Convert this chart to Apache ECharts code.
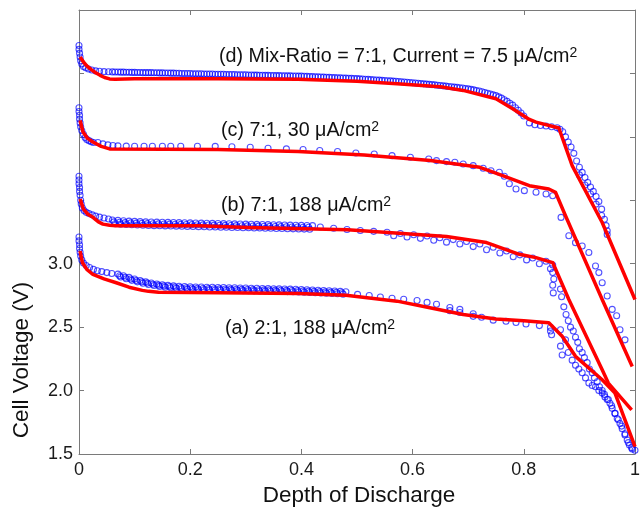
<!DOCTYPE html>
<html>
<head>
<meta charset="utf-8">
<script src="https://cdn.jsdelivr.net/npm/echarts@6/dist/echarts.min.js"></script>
<style>
html,body{margin:0;padding:0;background:#fff;}
#c{width:643px;height:508px;}
</style>
</head>
<body>
<div id="c"></div>
<script>
// ---------- data ----------
const xTickLabels = ['0', '0.2', '0.4', '0.6', '0.8', '1'];
const yTickLabels = ['1.5', '2.0', '2.5', '3.0'];

const curveLabels = [
  ['(d) Mix-Ratio = 7:1, Current = 7.5 μA/cm', '2'],
  ['(c) 7:1, 30 μA/cm', '2'],
  ['(b) 7:1, 188 μA/cm', '2'],
  ['(a) 2:1, 188 μA/cm', '2']
];
const xName = 'Depth of Discharge';
const yName = 'Cell Voltage (V)';

// model (red) curves
const redD = [[0.002,4.63],[0.008,4.59],[0.014,4.56],[0.022,4.53],[0.030,4.505],[0.038,4.485],[0.046,4.468],[0.055,4.457],[0.065,4.455],[0.10,4.458],[0.25,4.459],[0.394,4.455],[0.50,4.438],[0.572,4.419],[0.65,4.395],[0.691,4.366],[0.75,4.30],[0.78,4.222],[0.81,4.137],[0.822,4.116],[0.863,4.07],[0.887,3.773],[0.941,3.325],[1.0,2.718]];
const redC = [[0.002,4.13],[0.007,4.04],[0.015,3.99],[0.025,3.96],[0.040,3.925],[0.055,3.905],[0.25,3.90],[0.394,3.884],[0.513,3.857],[0.632,3.813],[0.721,3.76],[0.762,3.694],[0.810,3.615],[0.845,3.589],[0.857,3.563],[0.875,3.378],[0.941,2.718],[0.995,2.19]];
const redB = [[0.002,3.51],[0.008,3.43],[0.016,3.39],[0.025,3.366],[0.035,3.33],[0.043,3.312],[0.055,3.303],[0.067,3.299],[0.216,3.299],[0.305,3.286],[0.483,3.267],[0.602,3.233],[0.661,3.215],[0.733,3.167],[0.792,3.074],[0.822,3.048],[0.852,3.009],[0.881,2.718],[0.941,2.165],[0.952,2.059],[0.994,1.848]];
const redA = [[0.002,3.10],[0.006,3.01],[0.014,2.955],[0.025,2.915],[0.045,2.88],[0.067,2.85],[0.09,2.815],[0.114,2.79],[0.125,2.782],[0.143,2.776],[0.251,2.772],[0.394,2.766],[0.48,2.752],[0.572,2.705],[0.631,2.653],[0.691,2.60],[0.75,2.565],[0.80,2.55],[0.845,2.534],[0.869,2.428],[0.893,2.27],[0.941,2.085],[0.964,1.98],[0.982,1.769],[1.0,1.558]];

// measured (blue circles)
const blueD = [[0.000,4.72],[0.000,4.69],[0.001,4.66],[0.002,4.63],[0.003,4.60],[0.005,4.575],[0.008,4.555],[0.012,4.545],[0.017,4.535],[0.023,4.527],[0.030,4.52],[0.037,4.517],[0.045,4.514],[0.053,4.513],
[0.06,4.512],[0.07,4.511],[0.08,4.510],[0.09,4.509],[0.10,4.508],[0.11,4.507],[0.12,4.506],[0.13,4.506],[0.14,4.505],[0.15,4.504],[0.16,4.503],[0.17,4.502],[0.18,4.501],[0.19,4.500],[0.20,4.499],[0.21,4.498],[0.22,4.497],[0.23,4.496],[0.24,4.495],[0.25,4.494],[0.26,4.493],[0.27,4.492],[0.28,4.491],[0.29,4.490],[0.30,4.489],[0.31,4.488],[0.32,4.487],[0.33,4.486],[0.34,4.485],[0.35,4.484],[0.36,4.483],[0.37,4.482],[0.38,4.481],[0.39,4.480],[0.40,4.479],[0.41,4.477],[0.42,4.475],[0.43,4.473],[0.44,4.471],[0.45,4.469],[0.46,4.467],[0.47,4.465],[0.48,4.463],[0.49,4.461],[0.50,4.459],[0.51,4.456],[0.52,4.453],[0.53,4.450],[0.54,4.447],[0.55,4.444],[0.56,4.441],[0.57,4.438],[0.58,4.434],[0.59,4.430],[0.60,4.426],[0.61,4.422],[0.62,4.418],[0.63,4.414],[0.64,4.410],[0.65,4.405],[0.66,4.400],[0.67,4.395],[0.68,4.390],[0.69,4.385],[0.70,4.378],[0.71,4.370],[0.72,4.361],[0.73,4.350],[0.74,4.338],[0.75,4.325],[0.76,4.305],[0.77,4.280],[0.78,4.250],[0.79,4.210],[0.80,4.165],[0.81,4.110],[0.82,4.095],[0.83,4.090],[0.84,4.086],[0.85,4.080],[0.86,4.072],[0.865,4.060],[0.87,4.040],[0.875,4.000],[0.88,3.960],[0.885,3.920],[0.89,3.870],[0.895,3.810],[0.90,3.760],[0.905,3.720],[0.91,3.680],[0.915,3.640],[0.92,3.605],[0.925,3.570],[0.93,3.530],[0.935,3.490],[0.94,3.430],[0.945,3.350],[0.95,3.260],
[0.90,3.70],[0.91,3.62],[0.92,3.55],[0.93,3.47],[0.94,3.38],[0.948,3.30],[0.95,3.23],
[0.065,4.511],[0.075,4.510],[0.085,4.509],[0.095,4.508],[0.105,4.507],[0.115,4.506],[0.125,4.506],[0.135,4.505],[0.145,4.504],[0.155,4.503],[0.165,4.502],[0.175,4.501],[0.185,4.500],[0.195,4.499],[0.205,4.498],[0.215,4.497],[0.225,4.496],[0.235,4.495],[0.245,4.494],[0.255,4.493],[0.265,4.492],[0.275,4.491],[0.285,4.490],[0.295,4.489],[0.305,4.488],[0.315,4.487],[0.325,4.486],[0.335,4.485],[0.345,4.484],[0.355,4.483],[0.365,4.482],[0.375,4.481],[0.385,4.480],[0.395,4.479],[0.405,4.478],[0.415,4.476],[0.425,4.474],[0.435,4.472],[0.445,4.470],[0.455,4.468],[0.465,4.466],[0.475,4.464],[0.485,4.462],[0.495,4.460],[0.505,4.457],[0.515,4.454],[0.525,4.451],[0.535,4.448],[0.545,4.445],[0.555,4.442],[0.565,4.439],[0.575,4.436],[0.585,4.432],[0.595,4.428],[0.605,4.424],[0.615,4.420],[0.625,4.416],[0.635,4.412],[0.645,4.407],[0.655,4.402],[0.665,4.397],[0.675,4.392],[0.685,4.387],[0.695,4.381],[0.705,4.374],[0.715,4.365],[0.725,4.355],[0.735,4.344],[0.745,4.331],[0.755,4.315],[0.765,4.292],[0.775,4.265],[0.785,4.230],[0.795,4.188]];

const blueC = [[0.000,4.23],[0.000,4.20],[0.001,4.17],[0.001,4.14],[0.002,4.11],[0.003,4.08],[0.005,4.05],[0.008,4.02],[0.011,3.995],[0.014,3.98],[0.018,3.97],[0.022,3.962],[0.026,3.955],
[0.034,3.955],[0.043,3.945],[0.052,3.937],[0.061,3.932],[0.070,3.929],[0.085,3.927],[0.100,3.926],[0.117,3.926],[0.132,3.926],[0.150,3.926],[0.165,3.926],[0.183,3.926],[0.213,3.926],[0.245,3.925],[0.275,3.922],[0.308,3.918],[0.340,3.910],[0.373,3.905],[0.403,3.900],[0.433,3.892],[0.465,3.884],[0.498,3.873],[0.531,3.865],[0.563,3.852],[0.596,3.839],[0.629,3.826],[0.643,3.813],[0.661,3.805],[0.676,3.800],[0.691,3.786],[0.709,3.773],[0.727,3.752],[0.741,3.733],[0.756,3.721],[0.765,3.69],[0.774,3.63],[0.786,3.589],[0.801,3.576],[0.822,3.563],[0.840,3.55],[0.852,3.536],[0.867,3.365],[0.881,3.22],[0.893,3.166],[0.905,3.14],[0.917,3.088],[0.929,2.982],[0.935,2.93],[0.941,2.85],[0.950,2.745],[0.959,2.64],[0.967,2.59],[0.973,2.48],[0.982,2.40]];

const blueB = [[0.000,3.69],[0.000,3.66],[0.000,3.63],[0.001,3.60],[0.001,3.57],[0.002,3.54],[0.003,3.50],[0.004,3.47],[0.006,3.44],[0.009,3.42],[0.013,3.405],[0.018,3.395],[0.024,3.385],[0.030,3.375],[0.037,3.367],[0.045,3.36],[0.053,3.353],
[0.434,3.290],[0.458,3.280],[0.482,3.270],[0.506,3.262],[0.530,3.255],[0.554,3.248],[0.578,3.238],[0.602,3.228],[0.626,3.218],[0.649,3.205],[0.673,3.190],[0.697,3.175],[0.721,3.155],[0.745,3.130],[0.769,3.100],[0.793,3.070],[0.816,3.045],[0.840,3.020],[0.852,2.990],
[0.566,3.220],[0.590,3.210],[0.614,3.200],[0.638,3.185],[0.661,3.170],[0.685,3.155],[0.709,3.135],[0.733,3.110],[0.757,3.085],[0.781,3.055],[0.805,3.030],[0.828,3.000],[0.848,2.960],[0.852,2.930],[0.854,2.88],[0.852,2.83],[0.853,2.77],
[0.866,2.80],[0.868,2.74],[0.872,2.66],[0.876,2.60],[0.880,2.55],[0.884,2.50],[0.889,2.47],[0.893,2.42],[0.897,2.38],[0.900,2.33],[0.905,2.30],[0.909,2.26],[0.914,2.22],[0.918,2.17],[0.923,2.14],[0.927,2.10],[0.932,2.07],[0.936,2.03],[0.941,2.00],[0.945,1.97],[0.950,1.93],[0.955,1.90],[0.959,1.86],[0.964,1.82],[0.968,1.78],[0.973,1.74],[0.977,1.70],[0.982,1.65],[0.986,1.61],[0.990,1.57],[0.995,1.54]];
const blueBandB = [[0.06,3.345],[0.07,3.342],[0.08,3.339],[0.09,3.336],[0.10,3.334],[0.11,3.332],[0.12,3.330],[0.13,3.329],[0.14,3.328],[0.15,3.327],[0.16,3.326],[0.17,3.325],[0.18,3.324],[0.19,3.323],[0.20,3.322],[0.21,3.321],[0.22,3.320],[0.23,3.319],[0.24,3.318],[0.25,3.317],[0.26,3.316],[0.27,3.315],[0.28,3.314],[0.29,3.313],[0.30,3.312],[0.31,3.311],[0.32,3.310],[0.33,3.309],[0.34,3.308],[0.35,3.307],[0.36,3.306],[0.37,3.305],[0.38,3.304],[0.39,3.303],[0.40,3.302],[0.41,3.301],[0.42,3.300],
[0.063,3.330],[0.073,3.327],[0.083,3.324],[0.093,3.322],[0.103,3.320],[0.113,3.318],[0.123,3.316],[0.133,3.315],[0.143,3.314],[0.153,3.313],[0.163,3.312],[0.173,3.311],[0.183,3.310],[0.193,3.309],[0.203,3.308],[0.213,3.307],[0.223,3.306],[0.233,3.305],[0.243,3.304],[0.253,3.303],[0.263,3.302],[0.273,3.301],[0.283,3.300],[0.293,3.299],[0.303,3.298],[0.313,3.297],[0.323,3.296],[0.333,3.295],[0.343,3.294],[0.353,3.293],[0.363,3.292],[0.373,3.291],[0.383,3.290],[0.393,3.289],[0.403,3.288],[0.413,3.287],
[0.065,3.315],[0.075,3.312],[0.085,3.309],[0.095,3.307],[0.105,3.305],[0.115,3.303],[0.125,3.301],[0.135,3.300],[0.145,3.299],[0.155,3.298],[0.165,3.297],[0.175,3.296],[0.185,3.295],[0.195,3.294],[0.205,3.293],[0.215,3.292],[0.225,3.291],[0.235,3.290],[0.245,3.289],[0.255,3.288],[0.265,3.287],[0.275,3.286],[0.285,3.285],[0.295,3.284],[0.305,3.283],[0.315,3.282],[0.325,3.281],[0.335,3.280],[0.345,3.279],[0.355,3.278],[0.365,3.277],[0.375,3.276],[0.385,3.275],[0.395,3.274],[0.405,3.273],[0.415,3.272]];

const blueA = [[0.000,3.21],[0.000,3.18],[0.001,3.15],[0.001,3.12],[0.002,3.09],[0.003,3.06],[0.005,3.03],[0.008,3.005],[0.013,2.985],[0.019,2.97],[0.026,2.955],[0.033,2.945],[0.041,2.938],[0.050,2.93],[0.059,2.923],
[0.501,2.758],[0.522,2.750],[0.542,2.738],[0.563,2.728],[0.584,2.720],[0.608,2.710],[0.626,2.695],[0.643,2.680],[0.667,2.655],[0.685,2.640],[0.709,2.605],[0.724,2.578],[0.745,2.555],[0.768,2.547],[0.786,2.537],[0.804,2.525],[0.828,2.512],[0.848,2.498],
[0.667,2.630],[0.685,2.615],[0.709,2.585],[0.848,2.47],[0.850,2.44],
[0.866,2.48],[0.866,2.35],[0.869,2.28],[0.875,2.40],[0.880,2.30],[0.887,2.24],[0.893,2.20],[0.899,2.17],[0.905,2.14],[0.911,2.10],[0.917,2.06],[0.923,2.04],[0.929,2.03],[0.935,2.00],[0.941,1.98],[0.946,1.95],[0.952,1.93],[0.958,1.88],[0.964,1.82],[0.970,1.77],[0.976,1.72],[0.982,1.66],[0.988,1.59],[0.994,1.55],[1.0,1.53]];
const blueBandA = [[0.07,2.918],[0.08,2.905],[0.09,2.892],[0.10,2.880],[0.11,2.868],[0.12,2.857],[0.13,2.848],[0.14,2.840],[0.15,2.834],[0.16,2.829],[0.17,2.825],[0.18,2.822],[0.19,2.820],[0.20,2.818],[0.21,2.817],[0.22,2.816],[0.23,2.815],[0.24,2.814],[0.25,2.813],[0.26,2.812],[0.27,2.811],[0.28,2.810],[0.29,2.809],[0.30,2.808],[0.31,2.807],[0.32,2.806],[0.33,2.805],[0.34,2.804],[0.35,2.803],[0.36,2.802],[0.37,2.801],[0.38,2.800],[0.39,2.799],[0.40,2.797],[0.41,2.795],[0.42,2.793],[0.43,2.791],[0.44,2.789],[0.45,2.787],[0.46,2.785],[0.47,2.782],[0.48,2.779],
[0.073,2.905],[0.083,2.893],[0.093,2.880],[0.103,2.868],[0.113,2.857],[0.123,2.847],[0.133,2.838],[0.143,2.831],[0.153,2.825],[0.163,2.820],[0.173,2.816],[0.183,2.813],[0.193,2.810],[0.203,2.808],[0.213,2.806],[0.223,2.805],[0.233,2.804],[0.243,2.803],[0.253,2.802],[0.263,2.801],[0.273,2.800],[0.283,2.799],[0.293,2.798],[0.303,2.797],[0.313,2.796],[0.323,2.795],[0.333,2.794],[0.343,2.793],[0.353,2.792],[0.363,2.791],[0.373,2.790],[0.383,2.789],[0.393,2.788],[0.403,2.786],[0.413,2.784],[0.423,2.782],[0.433,2.780],[0.443,2.778],[0.453,2.776],[0.463,2.774],[0.473,2.771],
[0.075,2.895],[0.085,2.882],[0.095,2.869],[0.105,2.857],[0.115,2.846],[0.125,2.836],[0.135,2.828],[0.145,2.821],[0.155,2.815],[0.165,2.810],[0.175,2.806],[0.185,2.803],[0.195,2.800],[0.205,2.798],[0.215,2.796],[0.225,2.795],[0.235,2.794],[0.245,2.793],[0.255,2.792],[0.265,2.791],[0.275,2.790],[0.285,2.789],[0.295,2.788],[0.305,2.787],[0.315,2.786],[0.325,2.785],[0.335,2.784],[0.345,2.783],[0.355,2.782],[0.365,2.781],[0.375,2.780],[0.385,2.779],[0.395,2.777],[0.405,2.775],[0.415,2.773],[0.425,2.771],[0.435,2.769],[0.445,2.767],[0.455,2.765],[0.465,2.763],[0.475,2.760]];

// ---------- chart ----------
const FONT = '"Liberation Sans", Arial, Helvetica, sans-serif';
const AXIS_COLOR = '#7a7a7a';
const chart = echarts.init(document.getElementById('c'), null, {renderer: 'canvas'});

function axisCommon(pos, showLabel) {
  return {
    type: 'value', position: pos,
    axisLine: {show: true, onZero: false, lineStyle: {color: AXIS_COLOR, width: 1}},
    axisTick: {show: true, inside: true, length: 5, lineStyle: {color: AXIS_COLOR, width: 1}},
    splitLine: {show: false},
    axisLabel: {show: showLabel, fontFamily: FONT, fontSize: 18, color: '#1a1a1a', margin: 7}
  };
}
const xBottom = Object.assign(axisCommon('bottom', true), {min: 0, max: 1, interval: 0.2});
xBottom.axisLabel.formatter = v => xTickLabels[Math.round(v / 0.2)];
const xTop = Object.assign(axisCommon('top', false), {min: 0, max: 1, interval: 0.2});
const yLeft = Object.assign(axisCommon('left', true), {min: 1.5, max: 5.0, interval: 0.5});
yLeft.axisLabel.formatter = v => yTickLabels[Math.round((v - 1.5) / 0.5)] || '';
yLeft.axisLabel.margin = 6;
const yRight = Object.assign(axisCommon('right', false), {min: 1.5, max: 5.0, interval: 0.5});

const circleStyle = {color: 'rgba(0,0,0,0)', borderColor: 'rgba(0,0,255,0.85)', borderWidth: 1.1};
function blue(data) {
  return {type: 'scatter', data: data, symbol: 'circle', symbolSize: 6, clip: false,
    itemStyle: circleStyle, z: 2, silent: true};
}
function red(data) {
  return {type: 'line', data: data, showSymbol: false, symbol: 'none', clip: false,
    lineStyle: {color: '#ff0000', width: 3.5, join: 'round'}, z: 5, silent: true};
}

function labelText(pair, x, y) {
  return {
    type: 'text', x: x, y: y, silent: true,
    style: {
      text: '{n|' + pair[0] + '}{s|' + pair[1] + '}',
      align: 'left', verticalAlign: 'middle', textAlign: 'left', textVerticalAlign: 'middle',
      rich: {
        n: {fontFamily: FONT, fontSize: 19.7, fill: '#111', color: '#111', lineHeight: 22},
        s: {fontFamily: FONT, fontSize: 14, fill: '#111', color: '#111', lineHeight: 19, verticalAlign: 'top'}
      }
    }
  };
}

chart.setOption({
  animation: false,
  backgroundColor: '#ffffff',
  grid: {left: 79, right: 3, top: 10, bottom: 54, containLabel: false},
  xAxis: [xBottom, xTop],
  yAxis: [yLeft, yRight],
  series: [blue(blueD), blue(blueC), blue(blueB), blue(blueBandB), blue(blueA), blue(blueBandA),
           red(redD), red(redC), red(redB), red(redA)],
  graphic: [
    labelText(curveLabels[0], 219, 57),
    labelText(curveLabels[1], 221, 131),
    labelText(curveLabels[2], 221, 206),
    labelText(curveLabels[3], 225, 329),
    {type: 'text', x: 359, y: 496, silent: true,
     style: {text: xName, font: '22.5px ' + FONT, fill: '#111', align: 'center', verticalAlign: 'middle', textAlign: 'center', textVerticalAlign: 'middle'}},
    {type: 'text', x: 22, y: 360, rotation: Math.PI / 2, silent: true,
     style: {text: yName, font: '22.5px ' + FONT, fill: '#111', align: 'center', verticalAlign: 'middle', textAlign: 'center', textVerticalAlign: 'middle'}}
  ]
});
</script>
</body>
</html>
